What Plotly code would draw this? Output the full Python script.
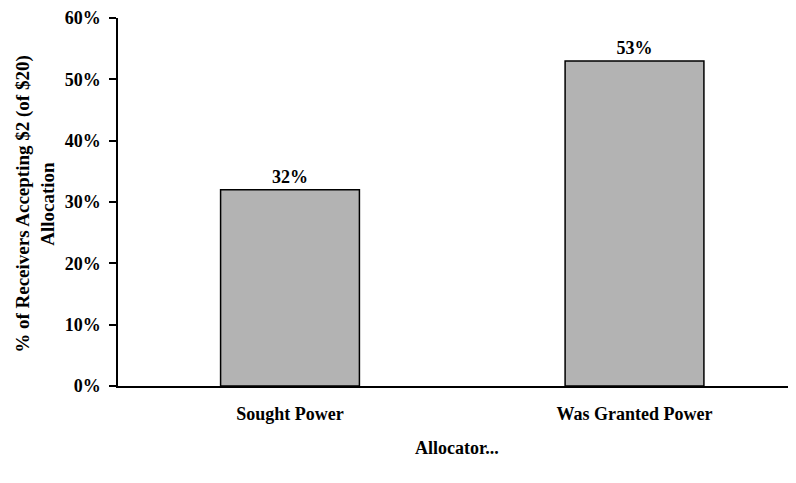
import plotly.graph_objects as go

categories = ["Sought Power", "Was Granted Power"]
values = [0.32, 0.53]
value_labels = ["32%", "53%"]
y_ticks = [0, 0.1, 0.2, 0.3, 0.4, 0.5, 0.6]
y_tick_labels = ["0%", "10%", "20%", "30%", "40%", "50%", "60%"]
x_title = "Allocator..."
y_title = "% of Receivers Accepting $2 (of $20)<br>Allocation"

FONT = "Liberation Serif, Times New Roman, serif"

# page has an 8px body margin; compensate in the figure margins
PLOT_W = 686.0
PLOT_H = 368.0

fig = go.Figure(go.Bar(
    x=categories,
    y=values,
    width=0.403,
    marker=dict(color="#b3b3b3", line=dict(color="black", width=1.5)),
    text=value_labels,
    textposition="outside",
    textfont=dict(family=FONT, size=18, color="black", weight="bold"),
    cliponaxis=False,
))

fig.update_layout(
    width=796, height=483,
    margin=dict(l=110, r=0, t=10, b=105, autoexpand=False),
    paper_bgcolor="white", plot_bgcolor="white",
    font=dict(family=FONT, size=18, color="black", weight="bold"),
    showlegend=False,
    annotations=[
        dict(text=y_title, xref="paper", yref="paper",
             x=-(118 - 35) / PLOT_W, y=0.495, xanchor="center", yanchor="middle",
             textangle=-90, showarrow=False,
             font=dict(family=FONT, size=19, color="black", weight="bold")),
        dict(text=x_title, xref="paper", yref="paper",
             x=(457 - 118) / PLOT_W, y=-(448 - 385.7) / PLOT_H, xanchor="center", yanchor="middle",
             showarrow=False,
             font=dict(family=FONT, size=18, color="black", weight="bold")),
    ],
)
fig.update_xaxes(
    range=[-0.4993, 1.4920],
    showline=True, linecolor="black", linewidth=1.5,
    showgrid=False, ticks="", zeroline=False, automargin=False,
    ticklabelstandoff=11, ticklabeloverflow="allow",
    tickfont=dict(family=FONT, size=18, weight="bold"),
)
fig.update_yaxes(
    range=[0, 0.6],
    tickvals=y_ticks, ticktext=y_tick_labels,
    showline=True, linecolor="black", linewidth=1.5,
    ticks="outside", ticklen=7, tickwidth=1.5, tickcolor="black",
    showgrid=False, zeroline=False, automargin=False,
    ticklabelstandoff=5, ticklabeloverflow="allow",
    tickfont=dict(family=FONT, size=18, weight="bold"),
)

fig.write_html("out.html")
